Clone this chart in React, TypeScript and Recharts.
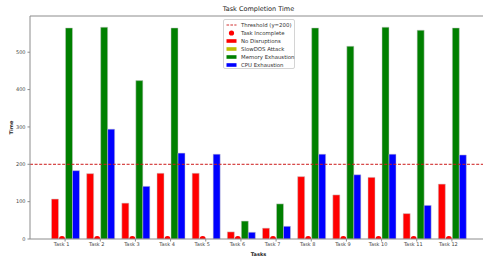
import { ComposedChart, Bar, XAxis, YAxis, ReferenceLine } from 'recharts';

const tasks = ['Task 1', 'Task 2', 'Task 3', 'Task 4', 'Task 5', 'Task 6', 'Task 7', 'Task 8', 'Task 9', 'Task 10', 'Task 11', 'Task 12'];
const noDisruptions = [107, 175, 96, 176, 176, 19, 29, 167, 118, 165, 68, 147];
const slowDos = [0, 0, 0, 0, 0, 0, 0, 0, 0, 0, 0, 0];
const memoryExhaustion = [565, 567, 424, 565, 0, 48, 94, 565, 516, 567, 559, 565];
const cpuExhaustion = [183, 294, 141, 230, 227, 18, 34, 227, 172, 227, 90, 225];
const taskIncomplete = [true, true, true, true, true, true, true, true, true, true, true, true];
const threshold = 200;
const yTicks = [0, 100, 200, 300, 400, 500];
const yMax = 597;

const COLORS = {
    none: '#ff0000',
    slow: '#bfbf00',
    memory: '#008000',
    cpu: '#0000ff',
    threshold: '#cc1a1a',
};

const data = tasks.map((task, i) => ({
    task,
    noDisruptions: noDisruptions[i],
    slowDos: slowDos[i],
    memoryExhaustion: memoryExhaustion[i],
    cpuExhaustion: cpuExhaustion[i],
    incomplete: taskIncomplete[i],
}));

const FONT = '"DejaVu Sans", sans-serif';
const AXIS = '#8c8c8c';
const EDGE = '#c8c8c8';

// slowDOS bars are all zero, the red "incomplete" marker sits on their slot
const SlowDosShape = (props: any) => {
    const {x, y, width, height, payload} = props;
    const cx = x + width / 2;
    const r = 3;
    return (
        <g>
            {height > 0 && <rect x={x} y={y} width={width} height={height} fill={COLORS.slow} stroke={EDGE} strokeWidth={0.5}/>}
            {payload && payload.incomplete && (
                <path d={`M${cx - r},${y + height} A${r},${r} 0 0 1 ${cx + r},${y + height} Z`} fill={COLORS.none}/>
            )}
        </g>
    );
};

const XTick = (props: any) => {
    const {x, y, payload} = props;
    return (
        <text x={x - 3.5} y={y} dy="0.71em" textAnchor="middle" fontSize={5} fontFamily={FONT} fill="#444">
            {payload.value}
        </text>
    );
};

const YTick = (props: any) => {
    const {x, y, payload} = props;
    return (
        <text x={x} y={y} dy="0.355em" textAnchor="end" fontSize={5} fontFamily={FONT} fill="#444">
            {payload.value}
        </text>
    );
};

const legendItems = [
    {name: 'Threshold (y=200)', kind: 'dash', color: COLORS.threshold},
    {name: 'Task Incomplete', kind: 'dot', color: COLORS.none},
    {name: 'No Disruptions', kind: 'box', color: COLORS.none},
    {name: 'SlowDOS Attack', kind: 'box', color: COLORS.slow},
    {name: 'Memory Exhaustion', kind: 'box', color: COLORS.memory},
    {name: 'CPU Exhaustion', kind: 'box', color: COLORS.cpu},
];

const LegendBox = () => (
    <div style={{
        position: 'absolute', left: 222.5, top: 19, width: 72.5, height: 50, boxSizing: 'border-box',
        border: '0.6px solid #d4d4d4', borderRadius: 2, background: 'rgba(255,255,255,0.85)',
    }}>
        {legendItems.map((item, i) => (
            <div key={item.name} style={{position: 'absolute', left: 2.5, top: 1 + i * 8, height: 8, display: 'flex', alignItems: 'center'}}>
                <svg width={11} height={8} style={{display: 'block'}}>
                    {item.kind === 'dash' && <line x1={0.5} y1={4} x2={10.5} y2={4} stroke={item.color} strokeWidth={0.9} strokeDasharray="2.6 1.3"/>}
                    {item.kind === 'dot' && <circle cx={5.5} cy={4} r={2.6} fill={item.color}/>}
                    {item.kind === 'box' && <rect x={0.5} y={2.2} width={10} height={3.6} fill={item.color}/>}
                </svg>
                <span style={{marginLeft: 4, fontSize: 5.4, fontFamily: FONT, color: '#333', whiteSpace: 'nowrap', lineHeight: '8px'}}>
                    {item.name}
                </span>
            </div>
        ))}
    </div>
);

const App = () => {
    return (
        <div style={{position: 'absolute', left: 0, top: 0, width: 483, height: 258, overflow: 'hidden', background: '#fff'}}>
            <div style={{
                position: 'absolute', left: 0, width: 517, top: 5, textAlign: 'center',
                fontSize: 6.5, fontFamily: FONT, color: '#222', lineHeight: '8px',
            }}>
                Task Completion Time
            </div>
            <ComposedChart width={487} height={258} data={data} margin={{top: 16, right: 0, bottom: 0, left: 0}}>
                <XAxis
                    dataKey="task"
                    height={19}
                    interval={0}
                    padding={{left: 17.5, right: 17.5}}
                    tick={<XTick/>}
                    tickSize={2.5}
                    tickMargin={1}
                    stroke={AXIS}
                    label={(p: any) => {
                        const vb = p.viewBox;
                        return (
                            <text x={vb.x + vb.width / 2} y={255.5} textAnchor="middle" fontSize={5} fontWeight="bold" fontFamily={FONT} fill="#222">
                                Tasks
                            </text>
                        );
                    }}
                />
                <YAxis
                    width={30}
                    domain={[0, yMax]}
                    ticks={yTicks}
                    tick={<YTick/>}
                    tickSize={2.5}
                    tickMargin={2}
                    stroke={AXIS}
                    allowDataOverflow
                    label={(p: any) => {
                        const vb = p.viewBox;
                        const cx = 12.5;
                        const cy = vb.y + vb.height / 2;
                        return (
                            <text x={cx} y={cy} textAnchor="middle" transform={`rotate(-90 ${cx} ${cy})`} fontSize={5} fontWeight="bold" fontFamily={FONT} fill="#222">
                                Time
                            </text>
                        );
                    }}
                />
                <ReferenceLine y={yMax} stroke={AXIS} strokeWidth={1}/>
                <Bar dataKey="noDisruptions" fill={COLORS.none} stroke={EDGE} strokeWidth={0.5} barSize={7} isAnimationActive={false}/>
                <Bar dataKey="slowDos" fill={COLORS.slow} barSize={7} shape={<SlowDosShape/>} isAnimationActive={false}/>
                <Bar dataKey="memoryExhaustion" fill={COLORS.memory} stroke={EDGE} strokeWidth={0.5} barSize={7} isAnimationActive={false}/>
                <Bar dataKey="cpuExhaustion" fill={COLORS.cpu} stroke={EDGE} strokeWidth={0.5} barSize={7} isAnimationActive={false}/>
                <ReferenceLine y={threshold} stroke={COLORS.threshold} strokeWidth={1} strokeDasharray="3 1.6"/>
            </ComposedChart>
            <LegendBox/>
        </div>
    );
};

export default App;
